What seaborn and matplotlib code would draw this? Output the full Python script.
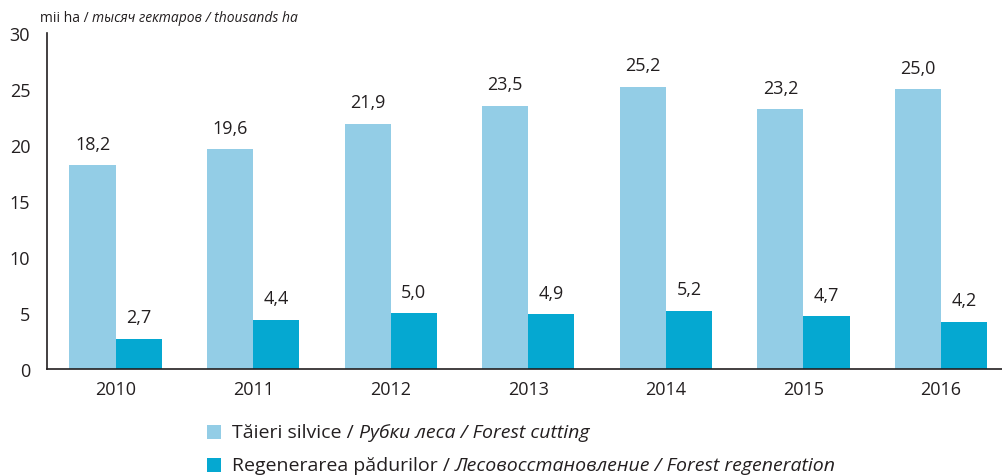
import pandas as pd
import matplotlib.pyplot as plt
import seaborn as sns
from matplotlib.patches import Rectangle

years = ["2010", "2011", "2012", "2013", "2014", "2015", "2016"]
cutting = [18.2, 19.6, 21.9, 23.5, 25.2, 23.2, 25.0]
regeneration = [2.7, 4.4, 5.0, 4.9, 5.2, 4.7, 4.2]
series = ["cutting", "regeneration"]
colors = ["#93cde6", "#05a8d1"]

legend_parts = [
    [("Tăieri silvice / ", "normal"), ("Рубки леса / Forest cutting", "italic")],
    [("Regenerarea pădurilor / ", "normal"),
     ("Лесовосстановление / Forest regeneration", "italic")],
]

df = pd.DataFrame({
    "year": years * 2,
    "value": cutting + regeneration,
    "series": [series[0]] * len(years) + [series[1]] * len(years),
})

sns.set_style("white")
plt.rcParams["font.family"] = ["Open Sans", "DejaVu Sans"]
txt = "#231f20"

fig = plt.figure(figsize=(10.02, 4.77), dpi=100)
# the plot area runs a little past the right edge of the picture
ax = fig.add_axes([46.8 / 1002, 0.2243, 963 / 1002, 0.7044])

sns.barplot(data=df, x="year", y="value", hue="series", palette=colors,
            width=0.67, ax=ax, legend=False, saturation=1, linewidth=0)

for cont in ax.containers:
    ax.bar_label(cont, labels=[f"{v:.1f}".replace(".", ",") for v in cont.datavalues],
                 padding=9, fontsize=13, color=txt)

ax.set_ylim(0, 30)
ax.set_yticks(range(0, 31, 5))
ax.set_xlim(-0.5, len(years) - 0.5)
ax.set_xlabel("")
ax.set_ylabel("")
sns.despine(ax=ax)
for s in ["left", "bottom"]:
    ax.spines[s].set_color(txt)
    ax.spines[s].set_linewidth(1.2)

ax.set_xticks([i + 0.5 for i in range(-1, len(years))], minor=False)
ax.set_xticklabels([])
ax.set_xticks(range(len(years)), minor=True)
ax.set_xticklabels(years, minor=True)
ax.tick_params(axis="x", which="major", direction="out", length=6, width=1.2, color=txt)
ax.tick_params(axis="x", which="minor", length=0, labelsize=13, labelcolor=txt, pad=8)
ax.tick_params(axis="y", direction="out", length=6, width=1.2, color=txt,
               labelsize=13, labelcolor=txt, pad=6)

# texts with mixed upright / italic pieces
fig.canvas.draw()
renderer = fig.canvas.get_renderer()

def draw_parts(x, y, parts, size):
    for text, style in parts:
        t = fig.text(x, y, text, fontsize=size, style=style, color=txt, va="center")
        bb = t.get_window_extent(renderer)
        x = bb.x1 / fig.bbox.width

draw_parts(40 / 1002, 1 - 18 / 477,
           [("mii ha / ", "normal"), ("тысяч гектаров / thousands ha", "italic")], 10)

legend_y = [433, 466]
for parts, col, yp in zip(legend_parts, colors, legend_y):
    fig.patches.append(Rectangle((207 / 1002, 1 - (yp + 7) / 477), 14 / 1002, 14 / 477,
                                 transform=fig.transFigure, facecolor=col,
                                 edgecolor="none"))
    draw_parts(232 / 1002, 1 - yp / 477, parts, 14)

fig.savefig("out.png", dpi=100)
